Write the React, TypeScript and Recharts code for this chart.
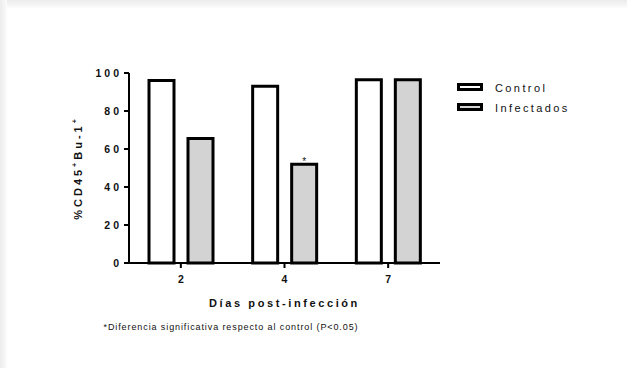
import { BarChart, Bar, XAxis, YAxis, Legend, LabelList, Label } from 'recharts';

const days = ['2', '4', '7'];
const control = [96, 93, 96.5];
const infectados = [65.5, 52, 96.5];
const significance = ['', '*', ''];
const yTicks = [0, 20, 40, 60, 80, 100];

const data = days.map((day, i) => ({
  day,
  control: control[i],
  infectados: infectados[i],
  sig: significance[i],
}));

const FONT = '"Liberation Sans", Arial, sans-serif';

const legendItems = [
  { label: 'Control', fill: '#ffffff' },
  { label: 'Infectados', fill: '#d3d3d3' },
];

function LegendBoxes() {
  return (
    <svg width={170} height={44}>
      {legendItems.map((it, i) => (
        <g key={it.label}>
          <rect x={1.5} y={1.5 + i * 20} width={23} height={5} fill={it.fill} stroke="#000" strokeWidth={3} />
          <text
            x={38}
            y={8.5 + i * 20}
            fontFamily={FONT}
            fontSize={11}
            letterSpacing={2.4}
            fill="#111"
          >
            {it.label}
          </text>
        </g>
      ))}
    </svg>
  );
}

function YTitle(props: any) {
  const { viewBox } = props;
  const cx = 82;
  const cy = viewBox.y + viewBox.height / 2;
  return (
    <text
      x={cx}
      y={cy}
      transform={`rotate(-90, ${cx}, ${cy})`}
      textAnchor="middle"
      fontFamily={FONT}
      fontSize={11}
      fontWeight="bold"
      letterSpacing={3}
      fill="#111"
    >
      <tspan>%CD45</tspan>
      <tspan fontSize={7} dy={-5}>+</tspan>
      <tspan dy={5}>Bu-1</tspan>
      <tspan fontSize={7} dy={-5}>+</tspan>
    </text>
  );
}

function Star(props: any) {
  const { x, y, width, value } = props;
  if (!value) return null;
  return (
    <text x={x + width / 2} y={y + 1} textAnchor="middle" fontFamily={FONT} fontSize={10} fill="#111">
      {value}
    </text>
  );
}

export default function App() {
  return (
    <div style={{ position: 'absolute', left: 0, top: 0, width: 627, height: 368, background: '#fff' }}>
      <div
        style={{
          position: 'absolute',
          left: 0,
          top: 0,
          width: 627,
          height: 8,
          background: 'linear-gradient(to bottom, #ececec, #f6f6f6 70%, #fdfdfd)',
        }}
      />
      <div
        style={{
          position: 'absolute',
          left: 0,
          top: 0,
          width: 7,
          height: 368,
          background: 'linear-gradient(to right, #ececec, #f6f6f6 70%, #fdfdfd)',
        }}
      />
      <div style={{ position: 'absolute', left: 0, top: 0 }}>
        <BarChart
          width={627}
          height={368}
          data={data}
          margin={{ top: 73, right: 187, bottom: 75, left: 79 }}
          barCategoryGap={20}
          barGap={14}
        >
          <XAxis
            dataKey="day"
            height={30}
            axisLine={{ stroke: '#000', strokeWidth: 2 }}
            tickLine={{ stroke: '#000', strokeWidth: 2 }}
            tickSize={5}
            tickMargin={8}
            tick={{ fontFamily: FONT, fontSize: 10.5, fontWeight: 'bold', fill: '#111' }}
          >
            <Label
              value="Días post-infección"
              position="insideBottom"
              offset={-14}
              fontFamily={FONT}
              fontSize={11}
              fontWeight="bold"
              letterSpacing={2.6}
              fill="#111"
            />
          </XAxis>
          <YAxis
            width={50}
            domain={[0, 100]}
            ticks={yTicks}
            interval={0}
            axisLine={{ stroke: '#000', strokeWidth: 2 }}
            tickLine={{ stroke: '#000', strokeWidth: 2 }}
            tickSize={5}
            tick={{ fontFamily: FONT, fontSize: 10.5, fontWeight: 'bold', fill: '#111', letterSpacing: 3 }}
          >
            <Label content={<YTitle />} />
          </YAxis>
          <Legend
            layout="vertical"
            align="center"
            verticalAlign="middle"
            wrapperStyle={{ top: 83, left: 457, width: 170, height: 44 }}
            content={() => <LegendBoxes />}
          />
          <Bar
            dataKey="control"
            name="Control"
            fill="#ffffff"
            stroke="#000"
            strokeWidth={3}
            isAnimationActive={false}
          />
          <Bar
            dataKey="infectados"
            name="Infectados"
            fill="#d3d3d3"
            stroke="#000"
            strokeWidth={3}
            isAnimationActive={false}
          >
            <LabelList dataKey="sig" content={<Star />} />
          </Bar>
        </BarChart>
      </div>
      <div
        style={{
          position: 'absolute',
          left: 0,
          top: 322,
          width: 462,
          textAlign: 'center',
          fontFamily: FONT,
          fontSize: 9,
          letterSpacing: 0.9,
          color: '#111',
          whiteSpace: 'nowrap',
        }}
      >
        *Diferencia significativa respecto al control (P&lt;0.05)
      </div>
    </div>
  );
}
